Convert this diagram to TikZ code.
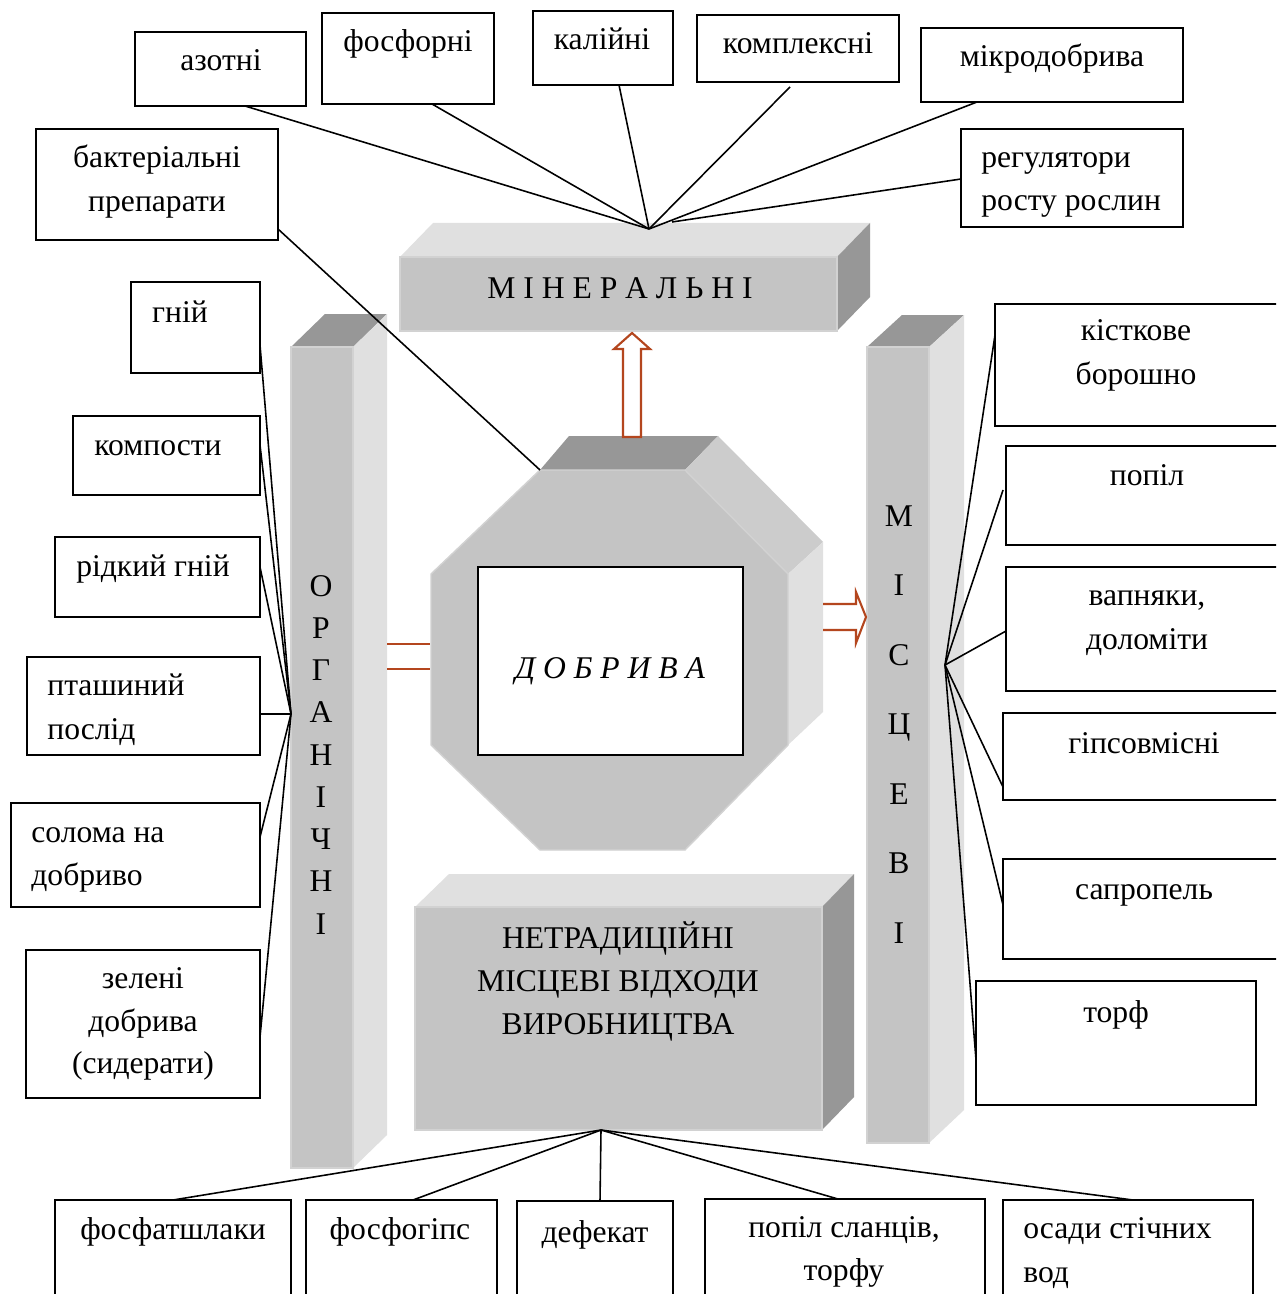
\documentclass[tikz,border=0pt]{standalone}
\usepackage{fontspec}
\setmainfont{Liberation Serif}
\usetikzlibrary{fit,calc}
\definecolor{frontgray}{HTML}{C4C4C4}
\definecolor{darkgray}{HTML}{979797}
\definecolor{lightgray}{HTML}{E0E0E0}
\definecolor{midgray}{HTML}{CCCCCC}
\definecolor{edgegray}{HTML}{D2D2D2}
\definecolor{arrowor}{HTML}{B4461E}
\begin{document}
\begin{tikzpicture}[x=0.02cm,y=-0.02cm,
  box/.style={draw=black,line width=1.2pt,inner sep=0pt,outer sep=0pt},
  txt/.style={font=\fontsize{18pt}{24pt}\selectfont,inner sep=0pt,anchor=base},
  txtl/.style={txt,anchor=base west},
  ln/.style={draw=black,line width=0.9pt},
  facefront/.style={fill=frontgray,draw=edgegray,line width=0.8pt},
  facedark/.style={fill=darkgray},
  facelight/.style={fill=lightgray},
  facemid/.style={fill=midgray},
  orarrow/.style={draw=arrowor,line width=1.2pt}]
\useasboundingbox (0,0) rectangle (1276,1294);
\clip (0,0) rectangle (1276,1294);
\fill[white] (0,0) rectangle (1276,1294);

% ---- Organic bar (left)
\fill[facedark] (291,347) -- (325,314) -- (387,314) -- (353,347) -- cycle;
\fill[facelight] (353,347) -- (387,314) -- (387,1135) -- (353,1168) -- cycle;
\filldraw[facefront] (291,347) rectangle (353,1168);
% ---- Local bar (right)
\fill[facedark] (867,347) -- (902,315) -- (964,315) -- (929,347) -- cycle;
\fill[facelight] (929,347) -- (964,315) -- (964,1110) -- (929,1143) -- cycle;
\filldraw[facefront] (867,347) rectangle (929,1143);
% ---- Mineral bar (top)
\fill[facelight] (400,257) -- (433,223) -- (870,223) -- (837,257) -- cycle;
\fill[facedark] (837,257) -- (870,223) -- (870,297) -- (837,331) -- cycle;
\filldraw[facefront] (400,257) rectangle (837,331);
% ---- Non-traditional bar (bottom)
\fill[facelight] (415,907) -- (449,874) -- (854,874) -- (822,907) -- cycle;
\fill[facedark] (822,907) -- (854,874) -- (854,1097) -- (822,1130) -- cycle;
\filldraw[facefront] (415,907) rectangle (822,1130);
% ---- Octagon
\fill[facedark] (540,470) -- (569,436) -- (718,436) -- (685,470) -- cycle;
\fill[facemid] (685,470) -- (718,436) -- (823,542) -- (788,574) -- cycle;
\fill[facelight] (788,574) -- (823,542) -- (823,712) -- (788,745) -- cycle;
\filldraw[facefront] (540,470) -- (685,470) -- (788,574) -- (788,745) -- (685,850) -- (540,850) -- (431,745) -- (431,574) -- cycle;
\node[box,line width=1.4pt,fit={(478,567) (743,755)},fill=white] (dobr) {};

% ---- Arrows
\filldraw[orarrow,fill=white] (623,437) -- (623,349) -- (614,349) -- (632,333) -- (650,349) -- (641,349) -- (641,437) -- cycle;
\draw[orarrow] (387,644) -- (430,644);
\draw[orarrow] (387,669) -- (430,669);
\draw[orarrow] (823,604) -- (856,604) -- (856,592) -- (866,617) -- (856,643) -- (856,630) -- (823,630);

% ---- Bar texts
\node[txt] (mintext) at (620,298) {М І Н Е Р А Л Ь Н І};
\node[txt,font=\fontsize{18pt}{24pt}\selectfont\itshape] (dobrtext) at (610,678) {Д О Б Р И В А};
\foreach \l [count=\i] in {О,Р,Г,А,Н,І,Ч,Н,І}
  \node[txt] (org\i) at (321,{596+(\i-1)*42.25}) {\l};
\foreach \l [count=\i] in {М,І,С,Ц,Е,В,І}
  \node[txt] (mis\i) at (899,{526+(\i-1)*69.5}) {\l};
\node[txt] (net1) at (618,948) {НЕТРАДИЦІЙНІ};
\node[txt] (net2) at (618,991) {МІСЦЕВІ ВІДХОДИ};
\node[txt] (net3) at (618,1034) {ВИРОБНИЦТВА};

% ---- Fan points
\coordinate (fanT) at (649,229);
\coordinate (fanTr) at (672,222);
\coordinate (octTL) at (540,470);
\coordinate (fanL) at (291,714);
\coordinate (fanR) at (945,665);
\coordinate (fanB) at (601,1130);

% ---- Top boxes
\node[box,fit={(135,32) (306,106)}] (azot) {};
\node[txt] (azotT) at (221,71) {азотні};
\node[box,fit={(322,13) (494,104)}] (fosf) {};
\node[txt] (fosfT) at (408,52) {фосфорні};
\node[box,fit={(533,11) (673,85)}] (kal) {};
\node[txt] (kalT) at (602,50) {калійні};
\node[box,fit={(697,15) (899,82)}] (kompl) {};
\node[txt] (komplT) at (798,54) {комплексні};
\node[box,fit={(921,28) (1183,102)}] (mikro) {};
\node[txt] (mikroT) at (1052,67) {мікродобрива};
\node[box,fit={(961,129) (1183,227)}] (reg) {};
\node[txtl] (regT1) at (981,168) {регулятори};
\node[txtl] (regT2) at (981,211) {росту рослин};
\node[box,fit={(36,129) (278,240)}] (bakt) {};
\node[txt] (baktT1) at (157,168) {бактеріальні};
\node[txt] (baktT2) at (157,212) {препарати};

% ---- Left boxes
\node[box,fit={(131,282) (260,373)}] (gniy) {};
\node[txt] (gniyT) at (180,322) {гній};
\node[box,fit={(73,416) (260,495)}] (komp) {};
\node[txt] (kompT) at (158,455) {компости};
\node[box,fit={(55,537) (260,617)}] (ridk) {};
\node[txt] (ridkT) at (153,576) {рідкий гній};
\node[box,fit={(27,657) (260,755)}] (ptash) {};
\node[txtl] (ptashT1) at (47,695) {пташиний};
\node[txtl] (ptashT2) at (47,739) {послід};
\node[box,fit={(11,803) (260,907)}] (solom) {};
\node[txtl] (solomT1) at (31,842) {солома на};
\node[txtl] (solomT2) at (31,885) {добриво};
\node[box,fit={(26,950) (260,1098)}] (zel) {};
\node[txt] (zelT1) at (143,988) {зелені};
\node[txt] (zelT2) at (143,1031) {добрива};
\node[txt] (zelT3) at (143,1073) {(сидерати)};

% ---- Right boxes
\node[box,fit={(995,304) (1290,426)}] (kist) {};
\node[txt] (kistT1) at (1136,340) {кісткове};
\node[txt] (kistT2) at (1136,384) {борошно};
\node[box,fit={(1006,446) (1290,545)}] (popil) {};
\node[txt] (popilT) at (1147,485) {попіл};
\node[box,fit={(1006,567) (1290,691)}] (vapn) {};
\node[txt] (vapnT1) at (1147,605) {вапняки,};
\node[txt] (vapnT2) at (1147,649) {доломіти};
\node[box,fit={(1003,713) (1290,800)}] (gips) {};
\node[txt] (gipsT) at (1144,753) {гіпсовмісні};
\node[box,fit={(1003,859) (1290,959)}] (sapr) {};
\node[txt] (saprT) at (1144,899) {сапропель};
\node[box,fit={(976,981) (1256,1105)}] (torf) {};
\node[txt] (torfT) at (1116,1022) {торф};

% ---- Bottom boxes
\node[box,fit={(55,1200) (291,1320)}] (fsh) {};
\node[txt] (fshT) at (173,1239) {фосфатшлаки};
\node[box,fit={(306,1200) (497,1320)}] (fgips) {};
\node[txt] (fgipsT) at (400,1239) {фосфогіпс};
\node[box,fit={(517,1201) (673,1320)}] (def) {};
\node[txt] (defT) at (595,1242) {дефекат};
\node[box,fit={(705,1199) (985,1320)}] (popsl) {};
\node[txt] (popslT1) at (844,1237) {попіл сланців,};
\node[txt] (popslT2) at (844,1280) {торфу};
\node[box,fit={(1003,1200) (1253,1320)}] (osad) {};
\node[txtl] (osadT1) at (1023,1238) {осади стічних};
\node[txtl] (osadT2) at (1023,1282) {вод};

% ---- Connectors: top fan
\draw[ln] (azot.south west) ++(110,0) -- (fanT);
\draw[ln] (fosf.south west) ++(110,0) -- (fanT);
\draw[ln] (kal.south west) ++(86,0) -- (fanT);
\draw[ln] (kompl.south west) ++(93,5) -- (fanT);
\draw[ln] (mikro.south west) ++(56,0) -- (fanT);
\draw[ln] (reg.north west) ++(0,50) -- (fanTr);
\draw[ln] (bakt.south east) ++(0,-11) -- (octTL);
% left fan
\draw[ln] (gniy.south east) ++(0,-28) -- (fanL);
\draw[ln] (komp.north east) ++(0,29) -- (fanL);
\draw[ln] (ridk.north east) ++(0,30) -- (fanL);
\draw[ln] (ptash.north east) ++(0,57) -- (fanL);
\draw[ln] (solom.north east) ++(0,34) -- (fanL);
\draw[ln] (zel.north east) ++(0,87) -- (fanL);
% right fan
\draw[ln] (kist.north west) ++(0,31) -- (fanR);
\draw[ln] (popil.north west) ++(-3,44) -- (fanR);
\draw[ln] (vapn.north west) ++(0,64) -- (fanR);
\draw[ln] (gips.north west) ++(0,74) -- (fanR);
\draw[ln] (sapr.north west) ++(0,46) -- (fanR);
\draw[ln] (torf.north west) ++(0,79) -- (fanR);
% bottom fan
\draw[ln] (fsh.north west) ++(118,0) -- (fanB);
\draw[ln] (fgips.north west) ++(107,0) -- (fanB);
\draw[ln] (def.north west) ++(83,0) -- (fanB);
\draw[ln] (popsl.north west) ++(133,0) -- (fanB);
\draw[ln] (osad.north west) ++(130,0) -- (fanB);
\end{tikzpicture}
\end{document}
